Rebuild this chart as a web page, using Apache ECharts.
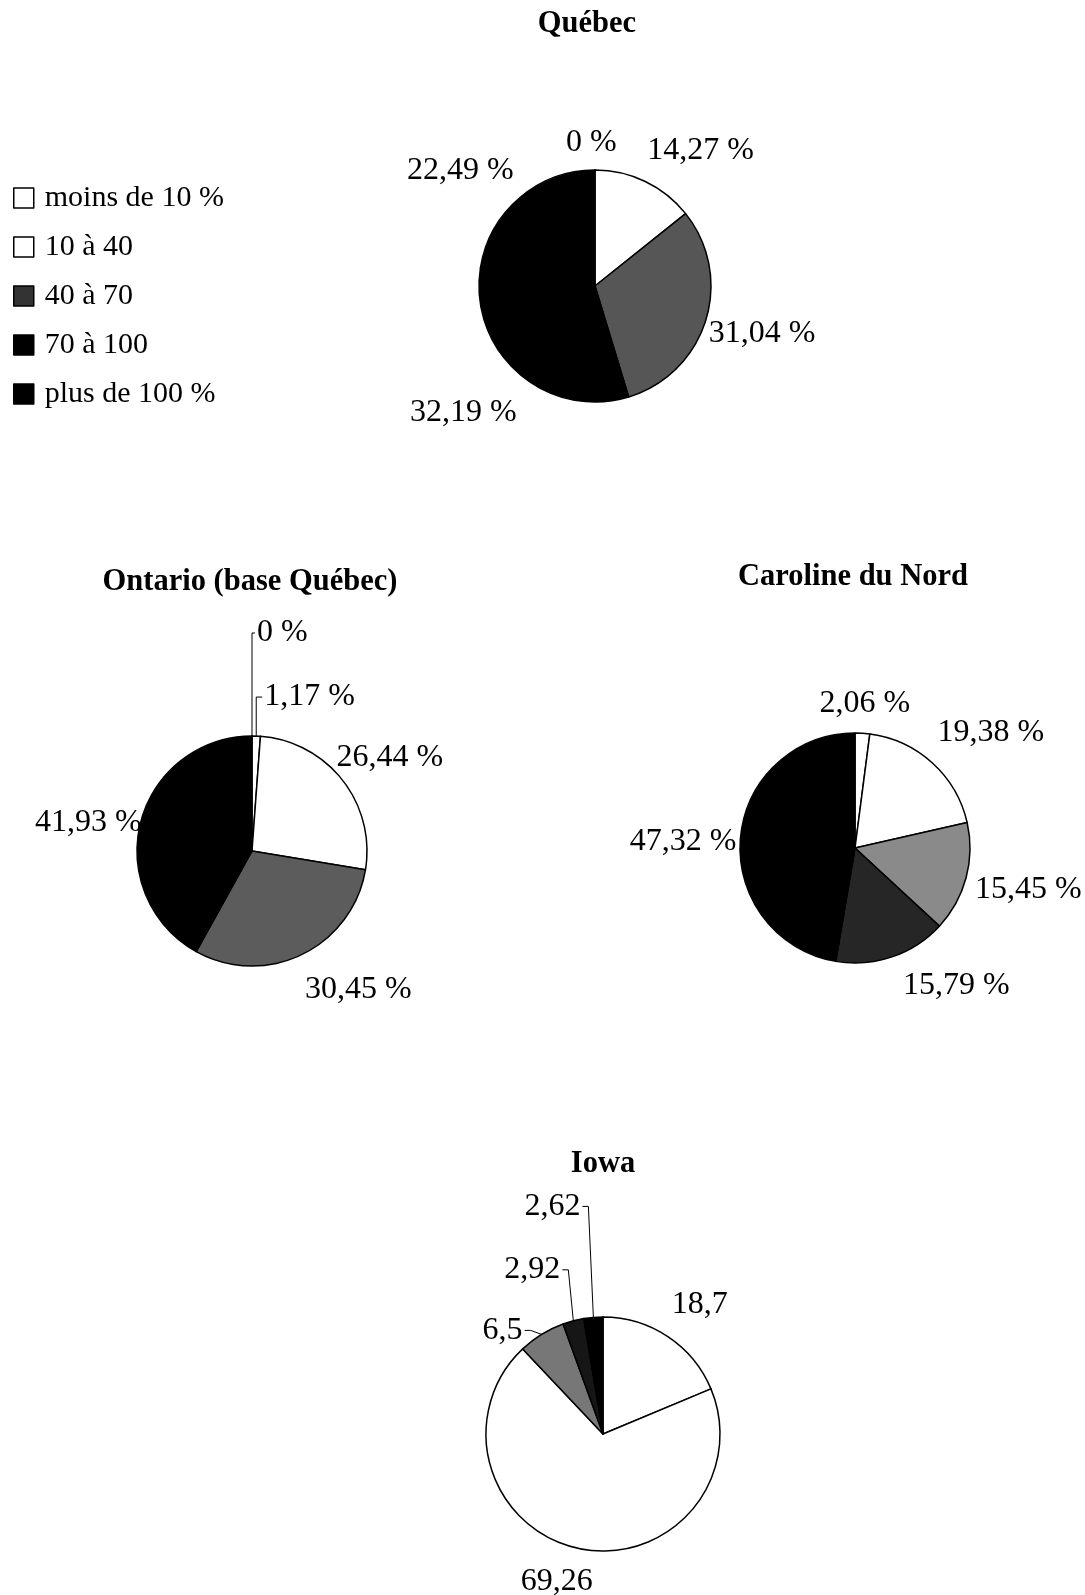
<!DOCTYPE html>
<html>
<head>
<meta charset="utf-8">
<script src="https://cdn.jsdelivr.net/npm/echarts@6/dist/echarts.min.js"></script>
<style>
  html, body { margin: 0; padding: 0; background: #ffffff; }
  #chart { width: 1085px; height: 1595px; }
</style>
</head>
<body>
<div id="chart"></div>
<script>
// Répartition des exploitations par classe (en % du total), quatre territoires
const categories = ['moins de 10 %', '10 à 40', '40 à 70', '70 à 100', 'plus de 100 %'];
const regions = ['Québec', 'Ontario (base Québec)', 'Caroline du Nord', 'Iowa'];
const quebecValues = [0, 14.27, 31.04, 32.19, 22.49];
const ontarioValues = [0, 1.17, 26.44, 30.45, 41.93];
const carolineValues = [2.06, 19.38, 15.45, 15.79, 47.32];
const iowaValues = [18.7, 69.26, 6.5, 2.92, 2.62];
const labelSuffix = [' %', ' %', ' %', ''];

// ---- presentation ----
const FONT = 'Liberation Serif';
const pieBoxes = [
  { center: [595, 286], radius: 116, titleX: 587, titleY: 9 },
  { center: [252, 851], radius: 115, titleX: 250, titleY: 567 },
  { center: [855, 848], radius: 115, titleX: 853, titleY: 562 },
  { center: [603, 1434], radius: 117, titleX: 603, titleY: 1149 }
];
const sliceColors = [
  ['#ffffff', '#ffffff', '#565656', '#000000', '#000000'],
  ['#ffffff', '#ffffff', '#ffffff', '#5c5c5c', '#000000'],
  ['#ffffff', '#ffffff', '#8a8a8a', '#262626', '#000000'],
  ['#ffffff', '#ffffff', '#777777', '#161616', '#000000']
];
const legendColors = ['#ffffff', '#ffffff', '#333333', '#000000', '#000000'];
// label nudges [dx, dy] from the rim of each slice
const labelShift = [
  [[-29, -27], [2, -31], [3, 13], [-2, 39], [-6, -27]],
  [[5, -103], [8, -39], [-6, -22], [3, 35], [1, 0]],
  [[-43, -30], [5, -30], [9, 12], [11, 29], [-4, 3]],
  [[4, -32], [14, 33], [-19, -4], [-13, -51], [-13, -111]]
];
// slices drawn with zero width: their label starts at the rim point
const zeroSlices = [[0], [0], [], []];
// slices whose label is tied to the pie by a leader line
const leaderSlices = [[], [0, 1], [], [2, 3, 4]];

const allValues = [quebecValues, ontarioValues, carolineValues, iowaValues];

function fmt(v, suffix) {
  return String(v).replace('.', ',') + suffix;
}

const series = allValues.map(function (vals, k) {
  return {
    type: 'pie',
    name: regions[k],
    center: pieBoxes[k].center,
    radius: pieBoxes[k].radius,
    startAngle: 90,
    clockwise: true,
    avoidLabelOverlap: false,
    silent: true,
    animation: false,
    itemStyle: { borderColor: '#000', borderWidth: 1.5 },
    label: {
      show: true,
      position: 'outside',
      distanceToLabelLine: 0,
      fontFamily: FONT,
      fontSize: 32,
      color: '#000',
      formatter: function (p) { return fmt(p.value, labelSuffix[k]); }
    },
    labelLine: { show: false, length: 0, length2: 0, lineStyle: { color: '#000', width: 1 } },
    emphasis: { disabled: true },
    labelLayout: function (p) {
      const s = labelShift[k][p.dataIndex];
      const r = p.labelRect;
      let dx = s[0];
      if (zeroSlices[k].indexOf(p.dataIndex) >= 0 && p.align === 'right') dx += r.width;
      const out = { dx: dx, dy: s[1] };
      if (leaderSlices[k].indexOf(p.dataIndex) >= 0 && p.labelLinePoints) {
        const a = p.labelLinePoints[0];
        const left = r.x + dx;
        const yMid = r.y + r.height / 2 + s[1];
        const onRight = left >= a[0] - 1;
        const edge = onRight ? left - 2 : left + r.width + 2;
        const midX = onRight ? a[0] : edge + 6;
        out.labelLinePoints = [[a[0], a[1]], [midX, yMid], [edge, yMid]];
      }
      return out;
    },
    data: vals.map(function (v, i) {
      return {
        name: categories[i],
        value: v,
        itemStyle: { color: sliceColors[k][i] },
        labelLine: { show: leaderSlices[k].indexOf(i) >= 0 }
      };
    })
  };
});

const titles = regions.map(function (name, k) {
  return {
    text: name,
    left: pieBoxes[k].titleX,
    top: pieBoxes[k].titleY,
    textAlign: 'center',
    padding: 0,
    textStyle: { fontFamily: FONT, fontSize: 30.5, fontWeight: 'bold', color: '#000' }
  };
});

const chart = echarts.init(document.getElementById('chart'), null, { renderer: 'canvas' });
chart.setOption({
  backgroundColor: '#ffffff',
  animation: false,
  title: titles,
  legend: {
    orient: 'vertical',
    left: 13,
    top: 183,
    padding: 0,
    icon: 'rect',
    itemWidth: 20,
    itemHeight: 20,
    itemGap: 19,
    selectedMode: false,
    textStyle: { fontFamily: FONT, fontSize: 30, color: '#000', padding: [0, 0, 0, 6] },
    data: categories.map(function (c, i) {
      return { name: c, itemStyle: { color: legendColors[i], borderColor: '#000', borderWidth: 1.5 } };
    })
  },
  series: series
});
</script>
</body>
</html>
